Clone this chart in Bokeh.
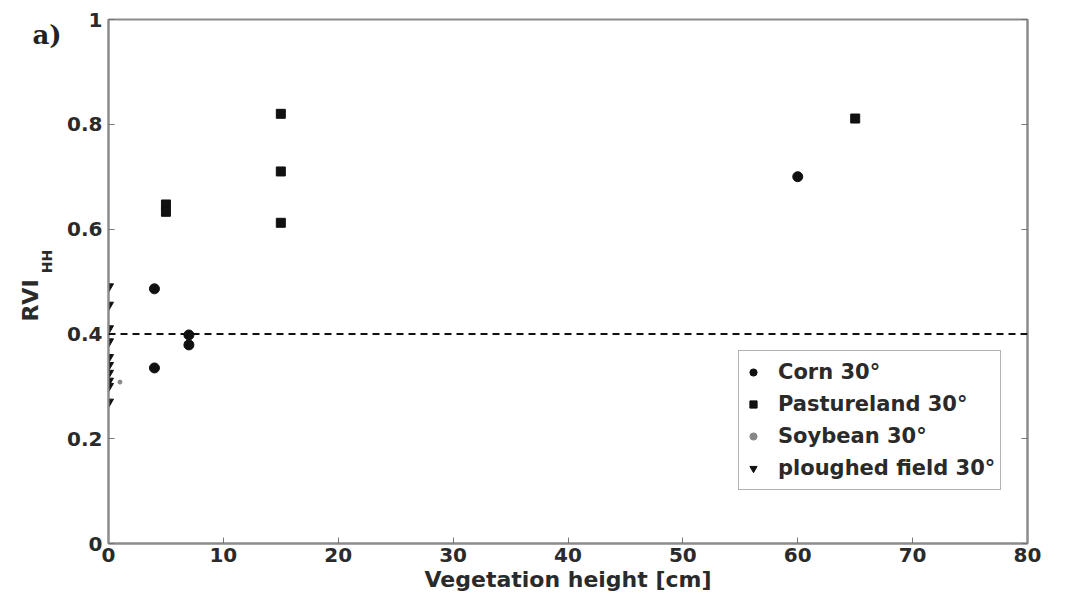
import math
from bokeh.plotting import figure
from bokeh.layouts import row
from bokeh.models import (FixedTicker, LinearAxis, Span,
                          Legend, LegendItem, Range1d)
from bokeh.core.properties import value
from bokeh.embed import file_html
from bokeh.resources import INLINE

# ---- data ----
corn_x = [4, 4, 7, 7, 60]
corn_y = [0.486, 0.335, 0.398, 0.379, 0.700]

pasture_x = [5, 5, 15, 15, 15, 65]
pasture_y = [0.647, 0.633, 0.820, 0.710, 0.612, 0.811]

soy_x = [1]
soy_y = [0.308]

plough_x = [0, 0, 0, 0, 0, 0, 0, 0, 0, 0]
plough_y = [0.490, 0.455, 0.410, 0.385, 0.355, 0.340, 0.325, 0.310, 0.300, 0.270]

threshold = 0.4

x_ticks = [0, 10, 20, 30, 40, 50, 60, 70, 80]
y_ticks = [0, 0.2, 0.4, 0.6, 0.8, 1.0]
y_tick_labels = {0: "0", 0.2: "0.2", 0.4: "0.4", 0.6: "0.6", 0.8: "0.8", 1.0: "1"}

FONT = "DejaVu Sans"
AXC = "#8c8c8c"
TXT = "#2a2a2a"

LEFT_W = 60

p = figure(width=1066 - LEFT_W, height=603, output_backend="svg", toolbar_location=None,
           x_range=Range1d(0, 80), y_range=Range1d(0, 1),
           min_border_left=108 - LEFT_W, min_border_right=39, min_border_top=19,
           min_border_bottom=60)
p.background_fill_color = "white"
p.border_fill_color = "white"
p.xgrid.visible = False
p.ygrid.visible = False
p.outline_line_color = AXC
p.outline_line_width = 2

def style_axis(ax):
    ax.axis_line_color = AXC
    ax.axis_line_width = 2
    ax.major_tick_line_color = "#777777"
    ax.major_tick_in = 6
    ax.major_tick_out = 0
    ax.minor_tick_line_color = None
    ax.major_label_text_font = FONT
    ax.major_label_text_font_style = "bold"
    ax.major_label_text_font_size = "20px"
    ax.major_label_text_color = TXT

xa = p.xaxis[0]
xa.ticker = FixedTicker(ticks=x_ticks)
style_axis(xa)
xa.major_label_standoff = 4
xa.axis_label = "Vegetation height [cm]"
xa.axis_label_text_font = FONT
xa.axis_label_text_font_style = "bold"
xa.axis_label_text_font_size = "22px"
xa.axis_label_text_color = TXT
xa.axis_label_standoff = 2

ya = p.yaxis[0]
ya.ticker = FixedTicker(ticks=y_ticks)
ya.major_label_overrides = y_tick_labels
style_axis(ya)
ya.major_label_standoff = 6

ra = LinearAxis(ticker=FixedTicker(ticks=y_ticks))
style_axis(ra)
ra.major_label_overrides = {t: "" for t in y_ticks}
ra.major_label_standoff = 0
p.add_layout(ra, "right")

p.add_layout(Span(location=threshold, dimension="width", line_color="#111111",
                  line_width=2, line_dash="7 5"))

r_corn = p.scatter(corn_x, corn_y, marker="circle", size=10, fill_color="#111111",
                   line_color="#111111")
r_past = p.scatter(pasture_x, pasture_y, marker="square", size=9, fill_color="#111111",
                   line_color="#111111")
r_soy = p.scatter(soy_x, soy_y, marker="circle", size=4, fill_color="#888888",
                  line_color="#888888")
r_pl = p.scatter(plough_x, plough_y, marker="inverted_triangle", size=10,
                 fill_color="#111111", line_color="#111111")

legend = Legend(items=[
    LegendItem(label="Corn 30°", renderers=[r_corn]),
    LegendItem(label="Pastureland 30°", renderers=[r_past]),
    LegendItem(label="Soybean 30°", renderers=[r_soy]),
    LegendItem(label="ploughed field 30°", renderers=[r_pl]),
], location=(630, 53))
legend.label_text_font = FONT
legend.label_text_font_style = "bold"
legend.label_text_font_size = "21px"
legend.label_text_color = TXT
legend.label_height = 32
legend.glyph_height = 18
legend.glyph_width = 18
legend.label_standoff = 16
legend.spacing = 0
legend.padding = 5
legend.margin = 0
legend.border_line_color = "#666666"
legend.border_line_width = 1.5
legend.background_fill_color = "white"
legend.background_fill_alpha = 1
p.add_layout(legend, "center")

# ---- narrow left strip holding the panel tag and the y axis title ----
# (its frame is aligned with the main frame: canvas rows 19..543)
side = figure(width=LEFT_W, height=603, output_backend="svg", toolbar_location=None,
              x_range=Range1d(0, LEFT_W), y_range=Range1d(543, 19),
              x_axis_type=None, y_axis_type=None, min_border=0)
side.outline_line_color = None
side.xgrid.visible = False
side.ygrid.visible = False
side.background_fill_color = "white"
side.border_fill_color = "white"

side.text(x=[30], y=[300], text=["RVI"], angle=math.pi / 2,
          text_font=value(FONT), text_font_style="bold", text_font_size="22px",
          text_color=TXT, text_align="center", text_baseline="middle")
side.text(x=[46], y=[261], text=["HH"], angle=math.pi / 2,
          text_font=value(FONT), text_font_style="bold", text_font_size="14px",
          text_color=TXT, text_align="center", text_baseline="middle")
side.text(x=[32], y=[34], text=["a)"],
          text_font=value("DejaVu Serif"), text_font_style="bold", text_font_size="26px",
          text_color="#222222", text_align="left", text_baseline="middle")

layout = row(side, p, spacing=0)
open("out.html", "w").write(file_html(layout, INLINE))
